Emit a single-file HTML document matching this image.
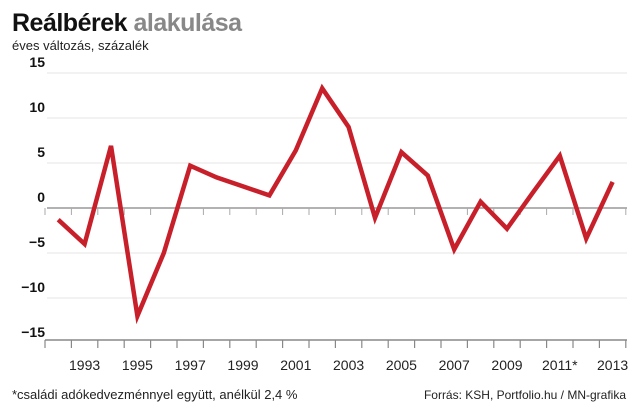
<!DOCTYPE html>
<html><head><meta charset="utf-8"><style>
body{margin:0;background:#fff;width:640px;height:413px;overflow:hidden;font-family:"Liberation Sans Narrow","Liberation Sans",sans-serif}
</style></head><body>
<svg width="640" height="413" style="font-family:'Liberation Sans Narrow','Liberation Sans',sans-serif">
<text x="12" y="31" font-size="25" font-weight="bold" style="letter-spacing:-0.5px"><tspan fill="#111">Reálbérek</tspan><tspan fill="#888"> alakulása</tspan></text>
<text x="12" y="50" font-size="13" fill="#222">éves változás, százalék</text>
<g id="grid"></g><g id="yl"></g><g id="xl"></g><g id="ticks"></g>
<path id="line" fill="none" stroke="#c8202a" stroke-width="4.5" stroke-linejoin="miter"/>
<text x="12" y="399" font-size="13" fill="#222">*családi adókedvezménnyel együtt, anélkül 2,4 %</text>
<text x="626" y="399" font-size="12" fill="#222" text-anchor="end">Forrás: KSH, Portfolio.hu / MN-grafika</text>
</svg>
<script>
const years=[1992,1993,1994,1995,1996,1997,1998,1999,2000,2001,2002,2003,2004,2005,2006,2007,2008,2009,2010,2011,2012,2013];
const values=[-1.3,-4,6.9,-12,-5,4.7,3.4,2.4,1.4,6.4,13.3,9,-1.1,6.2,3.6,-4.6,0.7,-2.3,1.8,5.8,-3.4,2.9];
const yTicks=[15,10,5,0,-5,-10,-15];
const xLabels=["1993","1995","1997","1999","2001","2003","2005","2007","2009","2011*","2013"];
const x0=45,bw=26.4,NS="http://www.w3.org/2000/svg";
const X=i=>x0+bw*(i+0.5), Y=v=>208-v*9;
function mk(t,a,p){const e=document.createElementNS(NS,t);for(const k in a)e.setAttribute(k,a[k]);p.appendChild(e);return e;}
const g=document.getElementById('grid'),yl=document.getElementById('yl'),xl=document.getElementById('xl'),tk=document.getElementById('ticks');
yTicks.forEach(v=>{
 if(v!==-15){const l=mk('line',{x1:47,x2:627,y1:Y(v),y2:Y(v),stroke:v===0?'#999':'#e4e4e4','stroke-width':v===0?1.5:1},g);
 }
 const t=mk('text',{x:45,y:Y(v)-6,'font-size':14,'font-weight':'bold','text-anchor':'end',fill:'#111'},yl);
 t.textContent=v<0?'\u2212'+(-v):v;
 
});
const ax=mk('line',{x1:45,x2:627,y1:340,y2:340,stroke:'#888','stroke-width':1.5},tk);

for(let i=0;i<=years.length;i++){const x=x0+bw*i;
 const a=mk('line',{x1:x,x2:x,y1:340,y2:348,stroke:'#888','stroke-width':1.2},tk);
 
 const b=mk('line',{x1:x,x2:x,y1:208,y2:215,stroke:'#aaa','stroke-width':1},tk);
 }
xLabels.forEach((s,k)=>{const i=1+2*k;
 const t=mk('text',{x:X(i),y:370,'font-size':14,'text-anchor':'middle',fill:'#222'},xl);t.textContent=s;
 });
document.getElementById('line').setAttribute('d',values.map((v,i)=>(i?'L':'M')+X(i)+' '+Y(v)).join(' '));
</script>
</body></html>
